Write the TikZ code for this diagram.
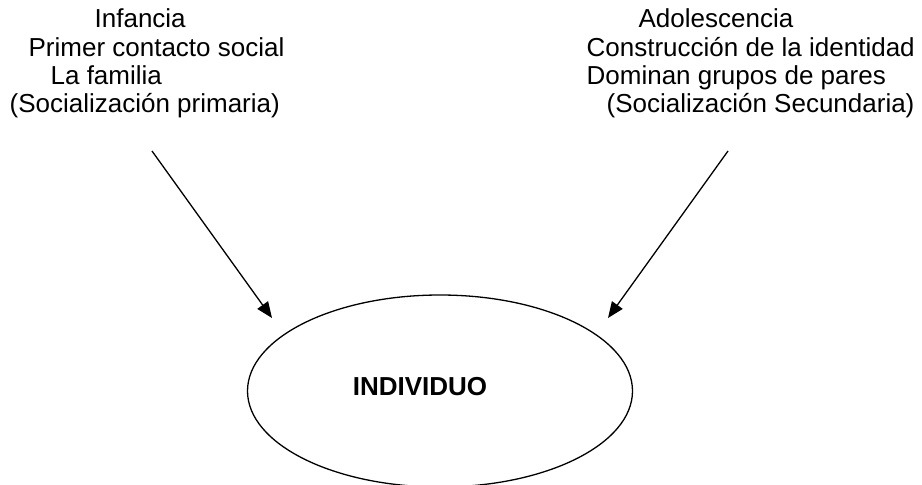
\documentclass[tikz,border=0pt]{standalone}
\usepackage{fontspec}
\setmainfont{Liberation Sans}
\usetikzlibrary{shapes.geometric,arrows.meta}

\begin{document}
\begin{tikzpicture}[x=1pt,y=-1pt,line width=1.3pt]
    \tikzstyle{line text}=[anchor=base west,inner sep=0pt,font=\fontsize{26}{28}\selectfont]
    \tikzstyle{stage arrow}=[-{Triangle[length=16pt,width=13pt]}]
    \tikzstyle{person}=[ellipse,draw,minimum width=385pt,minimum height=192pt,inner sep=0pt]

    \useasboundingbox (0,0) rectangle (922,485);

    % Left block: childhood
    \foreach \name / \x / \y / \txt in {1/94/27/Infancia, 2/28/56/{Primer contacto social},
                                        3/50/84/{La familia}, 4/9/112/{(Socialización primaria)}}
        \node[line text] (I-\name) at (\x,\y) {\txt};

    % Right block: adolescence
    \foreach \name / \x / \y / \txt in {1/638/27/Adolescencia, 2/586/56/{Construcción de la identidad},
                                        3/586/84/{Dominan grupos de pares}, 4/606/112/{(Socialización Secundaria)}}
        \node[line text] (A-\name) at (\x,\y) {\txt};

    % The individual
    \node[person] (indiv) at (440,391) {};
    \node[font=\fontsize{26}{28}\selectfont\bfseries,inner sep=0pt] (indiv-label) at (420,387) {INDIVIDUO};

    % Arrows towards the individual
    \coordinate (I-from) at (152,151);
    \coordinate (I-to) at (272,318);
    \coordinate (A-from) at (728,151);
    \coordinate (A-to) at (608,318);
    \draw[stage arrow] (I-from) -- (I-to);
    \draw[stage arrow] (A-from) -- (A-to);
\end{tikzpicture}
\end{document}
